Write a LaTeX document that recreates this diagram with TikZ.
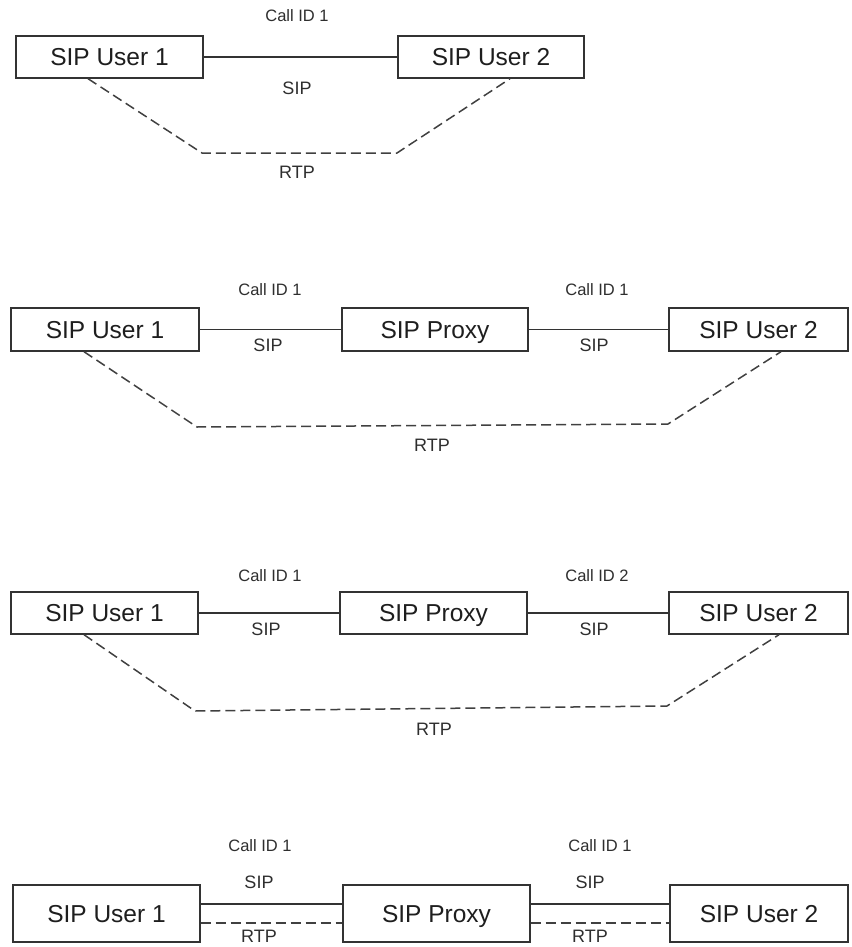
\documentclass[tikz,border=0pt]{standalone}
\usepackage{fontspec}
\setmainfont{Liberation Sans}
\definecolor{boxline}{HTML}{333333}
\definecolor{txt}{HTML}{1E1E1E}
\definecolor{lbl}{HTML}{2E2E2E}
\definecolor{dsh}{HTML}{404040}
\tikzset{
  entity/.style={draw=boxline, line width=1.4pt, fill=white, inner sep=0pt,
    text height=17.5pt, text depth=0pt,
    font=\fontsize{24.5}{28}\selectfont, text=txt},
  sipline/.style={draw=boxline, line width=1.3pt},
  rtpline/.style={draw=dsh, line width=1.5pt, dash pattern=on 10pt off 5pt},
  callid/.style={font=\fontsize{16.5}{19}\selectfont, text=lbl, inner sep=0pt},
  proto/.style={font=\fontsize{18}{21}\selectfont, text=lbl, inner sep=0pt},
}
\begin{document}
\begin{tikzpicture}[x=1pt, y=-1pt]
\useasboundingbox (0,0) rectangle (851,947);

% ---------- Panel 1 ----------
\node[entity, minimum width=187pt, minimum height=42pt] (a1) at (109.5,57) {SIP User 1};
\node[entity, minimum width=186pt, minimum height=42pt] (a2) at (491,57) {SIP User 2};
\draw[sipline] (a1.east) -- (a2.west);
\node[callid] (ac) at (297,16) {Call ID 1};
\node[proto] (as) at (297,88) {SIP};
\coordinate (ar1) at (202,153);
\coordinate (ar2) at (397,153);
\draw[rtpline] (a1.south -| 88,0) -- (ar1) -- (ar2) -- (a2.south -| 510,0);
\node[proto] (ar) at (297,172) {RTP};

% ---------- Panel 2 ----------
\node[entity, minimum width=188pt, minimum height=43pt] (b1) at (105,329.5) {SIP User 1};
\node[entity, minimum width=186pt, minimum height=43pt] (bp) at (435,329.5) {SIP Proxy};
\node[entity, minimum width=179pt, minimum height=43pt] (b2) at (758.5,329.5) {SIP User 2};
\draw[sipline] (b1.east) -- (bp.west);
\draw[sipline] (bp.east) -- (b2.west);
\node[callid] (bc1) at (270,290) {Call ID 1};
\node[callid] (bc2) at (597,290) {Call ID 1};
\node[proto] (bs1) at (268,345) {SIP};
\node[proto] (bs2) at (594,345) {SIP};
\coordinate (br1) at (197,427);
\coordinate (br2) at (668,424);
\draw[rtpline] (b1.south -| 84,0) -- (br1) -- (br2) -- (b2.south -| 781,0);
\node[proto] (br) at (432,445) {RTP};

% ---------- Panel 3 ----------
\node[entity, minimum width=187pt, minimum height=42pt] (c1) at (104.5,613) {SIP User 1};
\node[entity, minimum width=187pt, minimum height=42pt] (cp) at (433.5,613) {SIP Proxy};
\node[entity, minimum width=179pt, minimum height=42pt] (c2) at (758.5,613) {SIP User 2};
\draw[sipline] (c1.east) -- (cp.west);
\draw[sipline] (cp.east) -- (c2.west);
\node[callid] (cc1) at (270,576) {Call ID 1};
\node[callid] (cc2) at (597,576) {Call ID 2};
\node[proto] (cs1) at (266,629) {SIP};
\node[proto] (cs2) at (594,629) {SIP};
\coordinate (cr1) at (195,711);
\coordinate (cr2) at (667,706);
\draw[rtpline] (c1.south -| 84,0) -- (cr1) -- (cr2) -- (c2.south -| 779,0);
\node[proto] (cr) at (434,729) {RTP};

% ---------- Panel 4 ----------
\node[entity, minimum width=187pt, minimum height=57pt] (d1) at (106.5,913.5) {SIP User 1};
\node[entity, minimum width=187pt, minimum height=57pt] (dp) at (436.5,913.5) {SIP Proxy};
\node[entity, minimum width=178pt, minimum height=57pt] (d2) at (759,913.5) {SIP User 2};
\draw[sipline] ([yshift=9.5pt]d1.east) -- ([yshift=9.5pt]dp.west);
\draw[sipline] ([yshift=9.5pt]dp.east) -- ([yshift=9.5pt]d2.west);
\draw[rtpline] ([yshift=-9.5pt]d1.east) -- ([yshift=-9.5pt]dp.west);
\draw[rtpline] ([yshift=-9.5pt]dp.east) -- ([yshift=-9.5pt]d2.west);
\node[callid] (dc1) at (260,846) {Call ID 1};
\node[callid] (dc2) at (600,846) {Call ID 1};
\node[proto] (ds1) at (259,882) {SIP};
\node[proto] (ds2) at (590,882) {SIP};
\node[proto] (dr1) at (259,936) {RTP};
\node[proto] (dr2) at (590,936) {RTP};
\end{tikzpicture}
\end{document}
